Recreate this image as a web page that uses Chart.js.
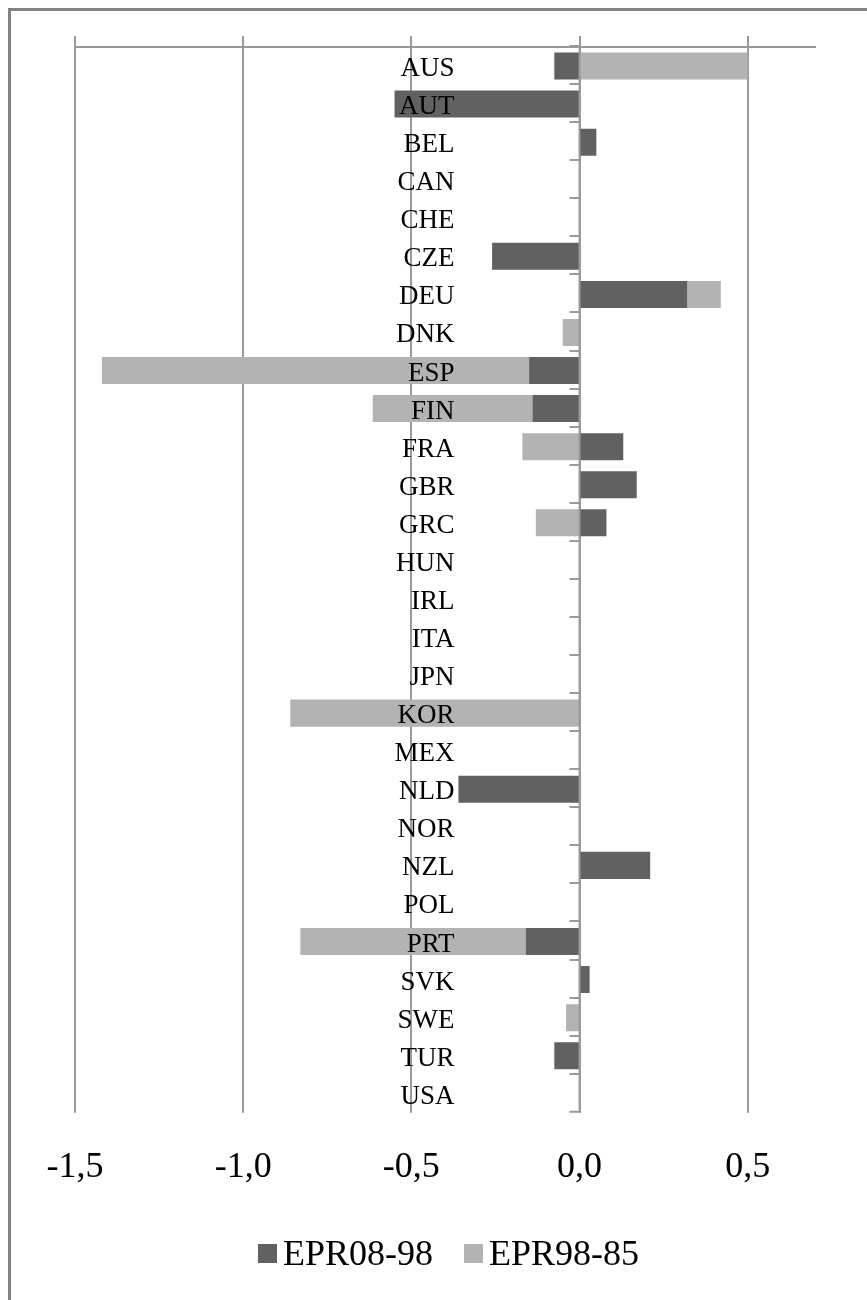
<!DOCTYPE html>
<html>
<head>
<meta charset="utf-8">
<script src="https://cdn.jsdelivr.net/npm/chart.js@4.4.0/dist/chart.umd.min.js"></script>
<style>
html, body { margin: 0; padding: 0; background: #fff; }
#caja { width: 867px; height: 1300px; position: relative; }
</style>
</head>
<body>
<div id="caja"><canvas id="grafica" width="867" height="1300"></canvas></div>
<script>
// datos
var paises = ['AUS','AUT','BEL','CAN','CHE','CZE','DEU','DNK','ESP','FIN','FRA','GBR','GRC','HUN',
              'IRL','ITA','JPN','KOR','MEX','NLD','NOR','NZL','POL','PRT','SVK','SWE','TUR','USA'];
var epr0898 = [-0.075, -0.55, 0.05, null, null, -0.26, 0.32, null, -0.15, -0.14, 0.13, 0.17, 0.08, null,
               null, null, null, null, null, -0.36, null, 0.21, null, -0.16, 0.03, null, -0.075, null];
var epr9885 = [0.5, null, null, null, null, null, 0.10, -0.05, -1.27, -0.475, -0.17, null, -0.13, null,
               null, null, null, -0.86, null, null, null, null, null, -0.67, null, -0.04, null, null];
var ticksX = [-1.5, -1.0, -0.5, 0, 0.5];
var series = ['EPR08-98', 'EPR98-85'];
var colores = ['#616161', '#b3b3b3'];

var gris = '#9a9a9a';
var fuente = '"Liberation Serif", "Times New Roman", serif';

function ponerTicks(escala) {
    escala.ticks = ticksX.map(function (v) { return { value: v }; });
}

// marco, etiquetas de categorias, eje cero y leyenda
var extras = {
    id: 'extras',
    beforeDraw: function (chart) {
        var ctx = chart.ctx;
        ctx.save();
        ctx.fillStyle = '#fff';
        ctx.fillRect(0, 0, chart.width, chart.height);
        ctx.fillStyle = '#828282';
        ctx.fillRect(8, 8, chart.width - 8, 3);
        ctx.fillRect(8, 8, 3, chart.height - 8);
        ctx.restore();
    },
    afterDatasetsDraw: function (chart) {
        var ctx = chart.ctx;
        var x = chart.scales.x;
        var y = chart.scales.y;
        var area = chart.chartArea;
        var x0 = x.getPixelForValue(0);
        ctx.save();
        // linea del cero
        ctx.strokeStyle = gris;
        ctx.lineWidth = 2;
        ctx.beginPath();
        ctx.moveTo(x0, area.top);
        ctx.lineTo(x0, area.bottom);
        // marcas entre categorias
        for (var i = 0; i <= paises.length; i++) {
            var yy = Math.round(y.getPixelForValue(i - 0.5)) - 1;
            if (i === paises.length) yy = area.bottom - 1;
            ctx.moveTo(x0, yy);
            ctx.lineTo(x0 - 10, yy);
        }
        ctx.stroke();
        // nombres de paises
        ctx.fillStyle = '#000';
        ctx.font = '27px ' + fuente;
        ctx.textAlign = 'right';
        ctx.textBaseline = 'alphabetic';
        for (var j = 0; j < paises.length; j++) {
            ctx.fillText(paises[j], x0 - 125, y.getPixelForValue(j) + 10);
        }
        // leyenda
        ctx.font = '36px ' + fuente;
        ctx.textAlign = 'left';
        var lx = 258;
        for (var k = 0; k < chart.data.datasets.length; k++) {
            var ds = chart.data.datasets[k];
            ctx.fillStyle = ds.backgroundColor;
            ctx.fillRect(lx, 1244, 19, 19);
            ctx.fillStyle = '#000';
            ctx.fillText(ds.label, lx + 25, 1265);
            lx = lx + 25 + ctx.measureText(ds.label).width + 31;
        }
        ctx.restore();
    }
};

var ctx = document.getElementById('grafica').getContext('2d');
var miGrafico = new Chart(ctx, {
    type: 'bar',
    data: {
        labels: paises,
        datasets: [
            { label: series[0], data: epr0898, backgroundColor: colores[0], borderWidth: 0 },
            { label: series[1], data: epr9885, backgroundColor: colores[1], borderWidth: 0 }
        ]
    },
    options: {
        indexAxis: 'y',
        responsive: false,
        animation: false,
        devicePixelRatio: 1,
        layout: { padding: { left: 75, right: 52, top: 36, bottom: 78 } },
        datasets: { bar: { categoryPercentage: 1, barPercentage: 0.71 } },
        plugins: { legend: { display: false }, tooltip: { enabled: false } },
        scales: {
            x: {
                type: 'linear', position: 'bottom', stacked: true, min: -1.5, max: 0.7,
                afterBuildTicks: ponerTicks,
                grid: { display: false, drawTicks: false },
                border: { display: false },
                ticks: {
                    color: '#000', padding: 33, font: { family: fuente, size: 36 },
                    callback: function (v) { return v.toFixed(1).replace('.', ','); }
                }
            },
            x2: {
                type: 'linear', position: 'top', min: -1.5, max: 0.7,
                afterBuildTicks: ponerTicks,
                grid: { color: gris, lineWidth: 2, drawTicks: true, tickLength: 11, tickColor: gris },
                border: { display: true, color: gris, width: 2 },
                ticks: { display: false }
            },
            y: { type: 'category', stacked: true, display: false }
        }
    },
    plugins: [extras]
});
</script>
</body>
</html>
